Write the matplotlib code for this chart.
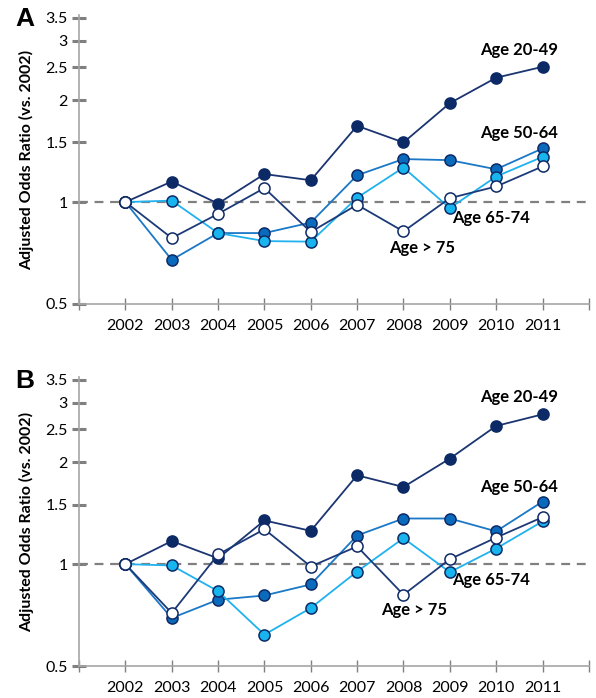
import matplotlib
matplotlib.use("Agg")
import matplotlib.pyplot as plt
from matplotlib.ticker import FixedLocator, NullLocator

years = [2002, 2003, 2004, 2005, 2006, 2007, 2008, 2009, 2010, 2011]
y_ticks = [0.5, 1, 1.5, 2, 2.5, 3, 3.5]
y_tick_labels = ["0.5", "1", "1.5", "2", "2.5", "3", "3.5"]
groups = ["Age 20-49", "Age 50-64", "Age 65-74", "Age > 75"]

# panel A
a_20_49 = [1, 1.15, 0.99, 1.21, 1.16, 1.68, 1.50, 1.96, 2.33, 2.51]
a_50_64 = [1, 0.675, 0.81, 0.81, 0.87, 1.20, 1.34, 1.33, 1.25, 1.44]
a_65_74 = [1, 1.01, 0.81, 0.767, 0.764, 1.03, 1.265, 0.96, 1.19, 1.36]
a_75 = [1, 0.783, 0.923, 1.10, 0.816, 0.982, 0.819, 1.027, 1.112, 1.274]

# panel B
b_20_49 = [1, 1.17, 1.04, 1.346, 1.254, 1.83, 1.69, 2.05, 2.56, 2.77]
b_50_64 = [1, 0.693, 0.785, 0.808, 0.871, 1.215, 1.364, 1.364, 1.25, 1.53]
b_65_74 = [1, 0.991, 0.832, 0.619, 0.742, 0.951, 1.193, 0.947, 1.112, 1.337]
b_75 = [1, 0.717, 1.068, 1.268, 0.984, 1.128, 0.812, 1.034, 1.198, 1.376]

plt.rcParams['font.family'] = ['Lato', 'DejaVu Sans']

navy = "#0d2a66"
# (line colour, marker fill)
styles = [
    ("#1b3572", "#0b2a66"),
    ("#1a78c6", "#0a6bbd"),
    ("#1fb2ef", "#18b4ee"),
    ("#1d3a78", "#ffffff"),
]

fig = plt.figure(figsize=(5.96, 6.98), dpi=100)
ax_a = fig.add_axes([0.1326, 0.5645, 0.8554, 0.414])
ax_b = fig.add_axes([0.1326, 0.0458, 0.8554, 0.414])


def draw_panel(ax, series, letter, label_pos):
    ax.axhline(1, color="#808080", lw=1.6, ls=(0, (4, 3)), zorder=1)
    for (lc, fc), vals in zip(styles, series):
        ax.plot(years, vals, color=lc, lw=1.3, marker="o", markersize=8,
                markerfacecolor=fc, markeredgecolor=navy, markeredgewidth=1.1,
                zorder=3)
    ax.set_yscale("log")
    ax.set_ylim(0.5, 3.57)
    ax.set_xlim(2001, 2012)
    ax.yaxis.set_major_locator(FixedLocator(y_ticks))
    ax.yaxis.set_minor_locator(NullLocator())
    ax.set_yticklabels(y_tick_labels)
    ax.set_xticks(range(2001, 2013))
    ax.set_xticklabels([""] + [str(y) for y in years] + [""])
    for s in ["top", "right"]:
        ax.spines[s].set_visible(False)
    for s in ["left", "bottom"]:
        ax.spines[s].set_color("#a6a6a6")
        ax.spines[s].set_linewidth(1.2)
    ax.tick_params(axis="y", direction="inout", length=10, width=2.2,
                   color="#808080", labelsize=11.5, pad=3)
    ax.tick_params(axis="x", direction="inout", length=9, width=1,
                   color="#808080", labelsize=11.5, pad=6)
    ax.set_ylabel("Adjusted Odds Ratio (vs. 2002)", fontsize=11.5,
                  fontweight="bold", labelpad=8)
    for name, (x, y, ha) in zip(groups, label_pos):
        ax.text(x, y, name, fontsize=12, fontweight="bold", ha=ha,
                va="center", zorder=4)
    ax.text(-0.125, 0.985, letter, transform=ax.transAxes, fontsize=19,
            fontweight="bold", family="Liberation Sans", ha="left",
            va="center")


draw_panel(ax_a, [a_20_49, a_50_64, a_65_74, a_75], "A",
           [(2010.5, 2.81, "center"), (2010.5, 1.60, "center"),
            (2009.9, 0.899, "center"), (2008.4, 0.733, "center")])
draw_panel(ax_b, [b_20_49, b_50_64, b_65_74, b_75], "B",
           [(2010.5, 3.11, "center"), (2010.5, 1.695, "center"),
            (2009.9, 0.895, "center"), (2008.24, 0.73, "center")])

fig.savefig("out.png", dpi=100)
